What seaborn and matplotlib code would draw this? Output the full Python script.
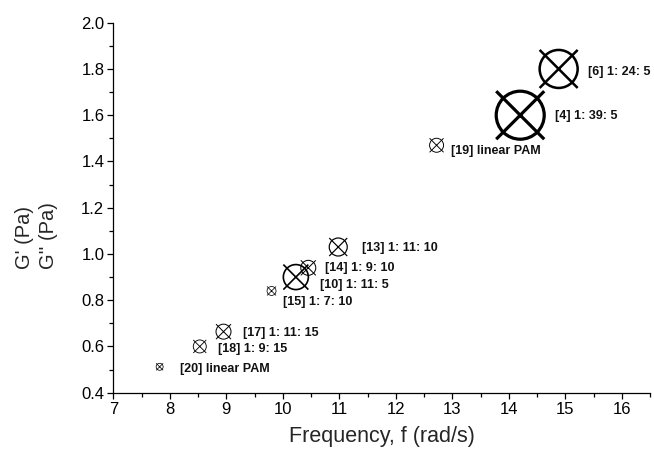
import matplotlib
matplotlib.use("Agg")
import matplotlib.pyplot as plt
import seaborn as sns
import pandas as pd
from matplotlib.ticker import MultipleLocator

# ---- data ----
labels = ["[6] 1: 24: 5", "[4] 1: 39: 5", "[19] linear PAM", "[13] 1: 11: 10",
          "[14] 1: 9: 10", "[10] 1: 11: 5", "[15] 1: 7: 10", "[17] 1: 11: 15",
          "[18] 1: 9: 15", "[20] linear PAM"]
frequency = [14.88, 14.20, 12.72, 10.98, 10.45, 10.23, 9.80, 8.95, 8.53, 7.82]
modulus = [1.80, 1.60, 1.47, 1.03, 0.94, 0.90, 0.84, 0.664, 0.60, 0.512]
bubble = [38, 48, 14, 18, 15, 25, 9, 15, 13, 7]   # relative marker diameter
x_ticks = [7, 8, 9, 10, 11, 12, 13, 14, 15, 16]
y_ticks = [0.4, 0.6, 0.8, 1.0, 1.2, 1.4, 1.6, 1.8, 2.0]

# ---- style ----
label_offsets_px = [(29, -3), (35, -1), (14, -6), (24, -1), (17, 0),
                    (24, -8), (11, -11), (19, -1), (18, -3), (20, -2)]

sns.set_style("ticks")
plt.rcParams["font.family"] = ["Liberation Sans", "DejaVu Sans"]

W, H, DPI = 654, 459, 100
fig = plt.figure(figsize=(W / DPI, H / DPI), dpi=DPI)
ax_l, ax_r, ax_t, ax_b = 113.3, 650.2, 22.7, 392.7
ax = fig.add_axes([ax_l / W, 1 - ax_b / H, (ax_r - ax_l) / W, (ax_b - ax_t) / H])

df = pd.DataFrame({"f": frequency, "G": modulus, "d": bubble, "label": labels})
pt = 72.0 / DPI
sizes = [(d * pt) ** 2 for d in bubble]
lws = [max(0.75, d / 15.0) * pt for d in bubble]

sns.scatterplot(data=df, x="f", y="G", marker="o", s=sizes, facecolor="none",
                edgecolor="black", color="black", linewidth=lws, ax=ax,
                legend=False, zorder=3)
sns.scatterplot(data=df, x="f", y="G", marker="x", s=sizes, color="black",
                linewidth=lws, ax=ax, legend=False, zorder=3)

for (xv, yv, lab, off) in zip(frequency, modulus, labels, label_offsets_px):
    ax.annotate(lab, xy=(xv, yv), xytext=(off[0] * pt, off[1] * pt),
                textcoords="offset points", ha="left", va="center",
                fontsize=9, fontweight="bold", color="#111111")

ax.set_xlim(7, 16.5)
ax.set_ylim(0.4, 2.0)
ax.set_xticks(x_ticks)
ax.set_yticks(y_ticks)
ax.set_yticklabels([f"{v:.1f}" for v in y_ticks])
ax.xaxis.set_minor_locator(MultipleLocator(0.5))
ax.yaxis.set_minor_locator(MultipleLocator(0.1))
ax.tick_params(which="major", direction="out", length=4.5, width=0.9,
               labelsize=12, pad=2, color="black", labelcolor="black")
ax.tick_params(which="minor", direction="out", length=2.6, width=0.9, color="black")
for s in ["top", "right"]:
    ax.spines[s].set_visible(False)
for s in ["left", "bottom"]:
    ax.spines[s].set_linewidth(0.9)
    ax.spines[s].set_color("black")

ax.set_xlabel("Frequency, f (rad/s)", fontsize=15.5, labelpad=7)
ax.set_ylabel("")
fig.text(25 / W, 1 - 269 / H, "G' (Pa)", rotation=90, rotation_mode="anchor",
         ha="left", va="center", fontsize=14.5)
fig.text(48 / W, 1 - 269 / H, "G'' (Pa)", rotation=90, rotation_mode="anchor",
         ha="left", va="center", fontsize=14.5)

fig.savefig("out.png", dpi=DPI, facecolor="white")
